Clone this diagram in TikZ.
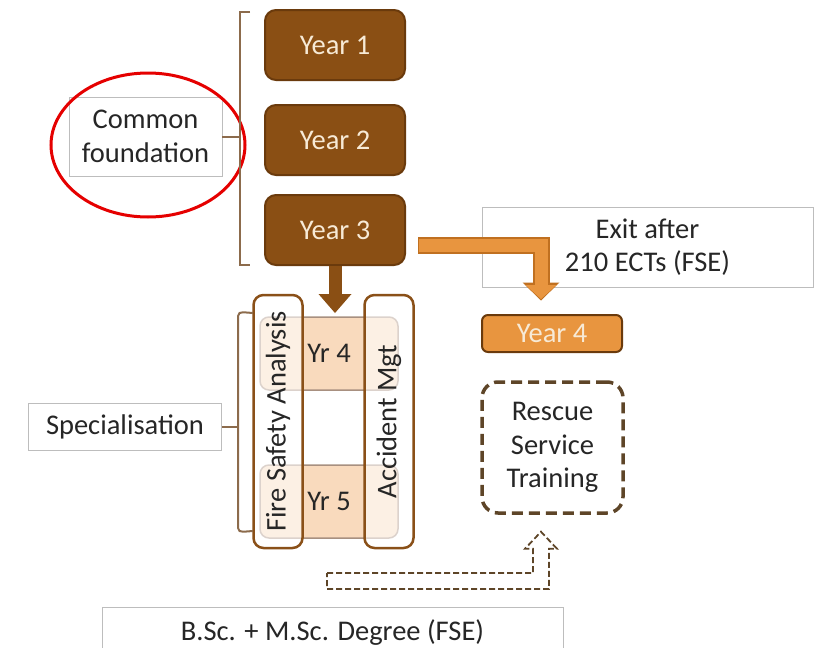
\documentclass[tikz,border=0pt]{standalone}
\usepackage{fontspec}
\setmainfont{Carlito}
\usetikzlibrary{calc,arrows.meta}
\definecolor{yearbrown}{HTML}{8A4F14}
\definecolor{yearedge}{HTML}{6A3A0C}
\definecolor{cream}{HTML}{F7EAD6}
\definecolor{peach}{HTML}{F9DABD}
\definecolor{peachedge}{HTML}{A89080}
\definecolor{bracket}{HTML}{8C6B4C}
\definecolor{trackedge}{HTML}{8A5018}
\definecolor{exitorange}{HTML}{E8953F}
\definecolor{exitedge}{HTML}{C07020}
\definecolor{dashbrown}{HTML}{5E4528}
\definecolor{labelgray}{HTML}{BDBDBD}
\tikzset{
  x=1pt, y=-1pt,
  base/.style={font=\fontsize{28.5}{33.5}\selectfont, align=center, inner sep=0pt},
  yearbox/.style={base, draw=yearedge, line width=2pt, fill=yearbrown, text=cream,
    rounded corners=11pt, minimum width=140pt, minimum height=70pt},
  yrbox/.style={base, draw=peachedge, line width=1.5pt, fill=peach, text=black!85,
    rounded corners=9pt, minimum width=138pt, minimum height=73pt},
  trackbox/.style={base, draw=trackedge, line width=2.5pt, fill=white, fill opacity=0.6,
    text opacity=1, text=black!85, rounded corners=10pt, minimum width=253pt, minimum height=49pt},
  labelbox/.style={base, draw=labelgray, line width=0.8pt, fill=white, text=black!85},
  bracketline/.style={draw=bracket, line width=2pt},
  orangebox/.style={base, draw=yearedge, line width=2pt, fill=exitorange, text=cream,
    rounded corners=6pt, minimum width=140pt, minimum height=37pt},
  rescuebox/.style={base, draw=dashbrown, line width=3.5pt, dash pattern=on 11pt off 6pt,
    rounded corners=16pt, minimum width=141pt, minimum height=131pt, text=black!85},
  hollowarrow/.style={draw=dashbrown, line width=1.8pt, dash pattern=on 6pt off 3pt, line join=miter},
}
\begin{document}
\begin{tikzpicture}
\useasboundingbox (0,0) rectangle (815,648);

% labels on the left
\node[labelbox, minimum width=153pt, minimum height=79pt] (common) at (145.5,136.5) {Common\\foundation};
\node[labelbox, minimum width=193pt, minimum height=47pt] (spec) at (125,427) {Specialisation};

% exit and degree labels
\node[labelbox, minimum width=331pt, minimum height=80pt] (exit) at (647.5,247) {Exit after\\210 ECTs (FSE)};
\node[labelbox, minimum width=461pt, minimum height=70pt, anchor=north] (degree) at (332.5,607) {};
\node[base, text=black!85] (degreetext) at (332.5,633) {B.Sc. + M.Sc. Degree (FSE)};

% red highlight
\draw[red!90!black, line width=3pt] (common.center) ++(2.5,8.5) ellipse [x radius=97pt, y radius=72pt];

% common foundation years
\node[yearbox] (y1) at (335,45) {Year 1};
\node[yearbox] (y2) at (335,140) {Year 2};
\node[yearbox] (y3) at (335,230) {Year 3};

% bracket for the common years
\coordinate (cbt) at (240,12);
\coordinate (cbb) at (240,265);
\draw[bracketline] ($(cbt)+(10,0)$) -- (cbt) -- (cbb) -- ($(cbb)+(10,0)$);
\draw[bracketline] (common.east) -- (common.east -| cbt);

% specialisation years
\node[yrbox] (yr4) at (329,353.5) {Yr 4};
\node[yrbox] (yr5) at (329,501.5) {Yr 5};

% vertical tracks
\node[trackbox, rotate=90] (fsa) at (278,421.5) {Fire Safety Analysis};
\node[trackbox, rotate=90] (am) at (389,421.5) {Accident Mgt};

% bracket for the specialisation
\coordinate (sbt) at (238,316);
\coordinate (sbb) at (238,528);
\draw[bracketline] ($(sbt)+(15,-3)$) to[out=180,in=90] (sbt) -- (sbb) to[out=-90,in=180] ($(sbb)+(15,3)$);
\draw[bracketline] (spec.east) -- (spec.east -| sbt);

% year 3 into the specialisation
\coordinate (spectop) at (335,313);
\draw[yearbrown, line width=13pt, -{Triangle[width=33pt,length=19pt,line width=0pt]}] (y3.south) -- (spectop);

% exit route
\node[orangebox] (y4exit) at (552,333.5) {Year 4};
\coordinate (exitstart) at (418,245.5);
\coordinate (exittip) at (541,299);
\draw[exitedge, line width=17pt, line join=miter, -{Triangle[width=37pt,length=18pt,line width=0pt]}] (exitstart) -| ($(exittip)+(0,1.5)$);
\draw[exitorange, line width=13pt, line join=miter, -{Triangle[width=31pt,length=14pt,line width=0pt]}] ($(exitstart)+(1,0)$) -| (exittip);

% rescue service
\node[rescuebox] (rescue) at (552.5,447.5) {Rescue\\Service\\Training};

\coordinate (hs) at (327,581);
\coordinate (ht) at ($(rescue.south)+(-11.5,17)$);
\draw[hollowarrow] ($(hs)+(0,-8)$) -- ($(ht|-hs)+(-8,-8)$) -- ($(ht)+(-8,17)$) -- ($(ht)+(-16,17)$)
  -- (ht) -- ($(ht)+(16,17)$) -- ($(ht)+(8,17)$) -- ($(ht|-hs)+(8,8)$) -- ($(hs)+(0,8)$) -- cycle;
\end{tikzpicture}
\end{document}
